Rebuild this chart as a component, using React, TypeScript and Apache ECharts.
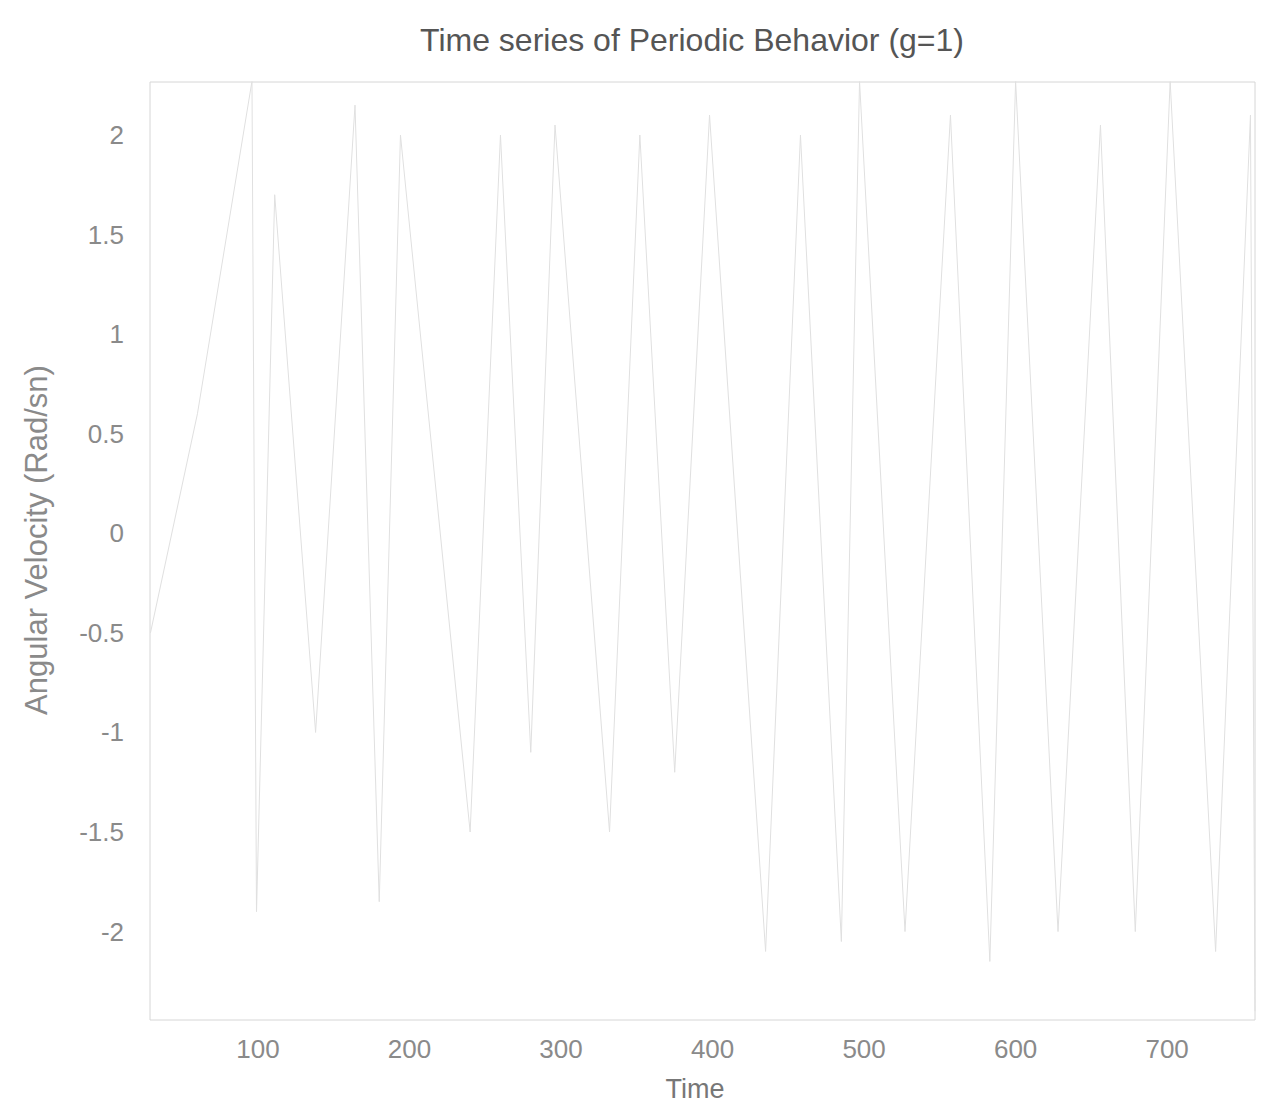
import React, { useEffect, useRef } from "react";
import * as echarts from "echarts";

// Estimated extrema of the (very faded) angular-velocity trace
const times = [29, 60, 96, 99, 111, 138, 164, 180, 194, 240, 260, 280, 296, 332, 352, 375, 398, 435, 458, 485, 497, 527, 557, 583, 600, 628, 656, 679, 702, 732, 755, 758];
const velocity = [-0.5, 0.6, 2.27, -1.9, 1.7, -1.0, 2.15, -1.85, 2.0, -1.5, 2.0, -1.1, 2.05, -1.5, 2.0, -1.2, 2.1, -2.1, 2.0, -2.05, 2.27, -2.0, 2.1, -2.15, 2.27, -2.0, 2.05, -2.0, 2.27, -2.1, 2.1, -2.4];

const xTicks = [100, 200, 300, 400, 500, 600, 700];
const yTicks = [-2, -1.5, -1, -0.5, 0, 0.5, 1, 1.5, 2];

const titleText = "Time series of Periodic Behavior (g=1)";
const xName = "Time";
const yName = "Angular Velocity (Rad/sn)";

export default function App() {
  const ref = useRef<HTMLDivElement>(null);
  useEffect(() => {
    if (!ref.current) return;
    const chart = echarts.init(ref.current, undefined, { renderer: "svg" });
    const font = "'Liberation Sans', Arial, sans-serif";
    chart.setOption({
      animation: false,
      backgroundColor: "#ffffff",
      grid: {
        left: 150,
        right: 14,
        top: 82,
        bottom: 89,
        show: true,
        borderColor: "#d6d6d6",
        borderWidth: 1,
      },
      xAxis: {
        type: "value",
        min: 28.7,
        max: 758,
        axisLine: { show: false },
        axisTick: { show: false },
        splitLine: { show: false },
        axisLabel: {
          customValues: xTicks,
          color: "#8a8a8a",
          fontSize: 26,
          fontFamily: font,
          margin: 16,
        },
      },
      yAxis: {
        type: "value",
        min: -2.444,
        max: 2.266,
        axisLine: { show: false },
        axisTick: { show: false },
        splitLine: { show: false },
        axisLabel: {
          customValues: yTicks,
          color: "#8a8a8a",
          fontSize: 26,
          fontFamily: font,
          margin: 26,
          formatter: (v: number) => String(v),
        },
      },
      series: [
        {
          type: "line",
          data: times.map((t, i) => [t, velocity[i]]),
          symbol: "none",
          lineStyle: { color: "#e0e0e0", width: 1 },
        },
      ],
      graphic: [
        {
          type: "text",
          x: 692,
          y: 40,
          style: {
            text: titleText,
            fill: "#555555",
            font: `32px ${font}`,
            align: "center",
            verticalAlign: "middle",
          },
        },
        {
          type: "text",
          x: 695,
          y: 1089,
          style: {
            text: xName,
            fill: "#777777",
            font: `27px ${font}`,
            align: "center",
            verticalAlign: "middle",
          },
        },
        {
          type: "text",
          x: 36,
          y: 540,
          rotation: Math.PI / 2,
          style: {
            text: yName,
            fill: "#8a8a8a",
            font: `31px ${font}`,
            align: "center",
            verticalAlign: "middle",
          },
        },
      ],
    });
    return () => chart.dispose();
  }, []);
  return <div ref={ref} style={{ width: 1269, height: 1109, margin: -8 }} />;
}
